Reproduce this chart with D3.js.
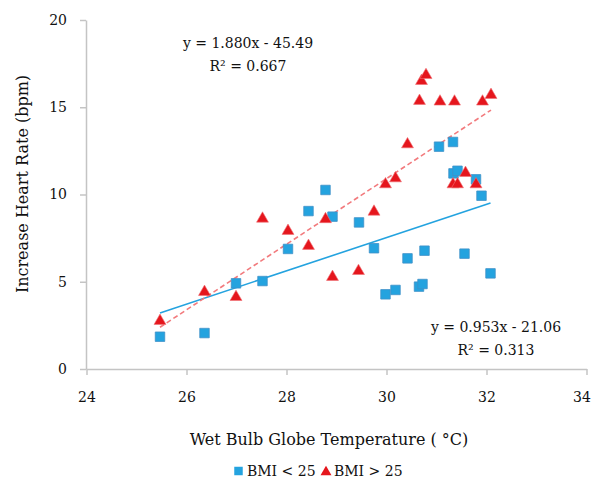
<!DOCTYPE html>
<html>
<head>
<meta charset="utf-8">
<script src="https://cdn.jsdelivr.net/npm/d3@7"></script>
<style>
  body { margin: 0; background: #fff; }
  text { font-family: "DejaVu Serif", serif; fill: #111; }
  .axis path, .axis line { stroke: #c4c4c4; stroke-width: 1.5; }
</style>
</head>
<body>
<svg id="chart"></svg>
<script>
const width = 594;
const height = 484;

// Wet bulb globe temperature (°C) for each subject group
const lowBmiTemp = [25.47, 26.36, 26.99, 27.52, 28.03, 28.44, 28.78, 28.92, 29.45, 29.75, 29.98, 30.18,
    30.42, 30.65, 30.72, 30.76, 31.05, 31.33, 31.34, 31.42, 31.56, 31.79, 31.90, 32.08];
const lowBmiRate = [1.85, 2.06, 4.91, 5.04, 6.88, 9.05, 10.26, 8.73, 8.40, 6.92, 4.28, 4.53,
    6.34, 4.72, 4.87, 6.78, 12.74, 13.01, 11.21, 11.36, 6.61, 10.87, 9.93, 5.48];

const highBmiTemp = [25.47, 26.36, 26.99, 27.52, 28.03, 28.44, 28.78, 28.92, 29.44, 29.75, 29.98, 30.18,
    30.42, 30.66, 30.70, 30.79, 31.07, 31.33, 31.36, 31.42, 31.58, 31.79, 31.92, 32.09];
const highBmiRate = [2.81, 4.47, 4.18, 8.67, 7.97, 7.11, 8.64, 5.33, 5.67, 9.07, 10.64, 10.98,
    12.93, 15.42, 16.56, 16.90, 15.38, 10.64, 15.38, 10.64, 11.29, 10.64, 15.38, 15.76];

// Linear trend lines (slope, intercept) and labels
const trendSlope = [0.953, 1.880];
const trendIntercept = [-21.06, -45.49];
const trendLabels = [['y = 0.953x - 21.06', 'R² = 0.313'], ['y = 1.880x - 45.49', 'R² = 0.667']];

const xTicks = [24, 26, 28, 30, 32, 34];
const yTicks = [0, 5, 10, 15, 20];
const legendLabels = ['BMI < 25', 'BMI > 25'];

const blue = '#24a3df';
const red = '#e5161d';

const svg = d3.select('#chart')
    .attr('width', width)
    .attr('height', height);

const x = d3.scaleLinear().domain([24, 34]).range([86.5, 586.5]);
const y = d3.scaleLinear().domain([0, 20]).range([369, 20]);

// Axes
svg.append('g')
    .attr('class', 'axis')
    .attr('transform', 'translate(0,369)')
    .call(d3.axisBottom(x).tickValues(xTicks).tickSize(6).tickSizeOuter(0).tickPadding(17))
    .call(g => g.selectAll('text').attr('font-size', 14).attr('font-family', '"DejaVu Serif", serif').attr('fill', '#111'))
    // keep the last label inside the picture
    .call(g => g.selectAll('.tick:last-of-type text').attr('dx', -5));

svg.append('g')
    .attr('class', 'axis')
    .attr('transform', 'translate(86,0)')
    .call(d3.axisLeft(y).tickValues(yTicks).tickSize(6).tickSizeOuter(0).tickPadding(13))
    .call(g => g.selectAll('text').attr('font-size', 14).attr('font-family', '"DejaVu Serif", serif').attr('fill', '#111'));

// Axis titles
svg.append('text')
    .attr('x', 329)
    .attr('y', 445)
    .attr('text-anchor', 'middle')
    .attr('font-size', 16)
    .text('Wet Bulb Globe Temperature ( °C)');

svg.append('text')
    .attr('transform', 'translate(28,184) rotate(-90)')
    .attr('text-anchor', 'middle')
    .attr('font-size', 16)
    .text('Increase Heart Rate (bpm)');

// Trend lines drawn over the data range
const groups = [
    { temp: lowBmiTemp, rate: lowBmiRate, color: blue, dash: null },
    { temp: highBmiTemp, rate: highBmiRate, color: '#f27a7d', dash: '5,3' }
];

groups.forEach((g, i) => {
    const x0 = d3.min(g.temp);
    const x1 = d3.max(g.temp);
    svg.append('line')
        .attr('x1', x(x0))
        .attr('y1', y(trendSlope[i] * x0 + trendIntercept[i]))
        .attr('x2', x(x1))
        .attr('y2', y(trendSlope[i] * x1 + trendIntercept[i]))
        .attr('stroke', g.color)
        .attr('stroke-width', 1.6)
        .attr('stroke-dasharray', g.dash);
});

// Markers
const square = d3.symbol().type(d3.symbolSquare).size(90);
const triangle = d3.symbol().type(d3.symbolTriangle).size(62);

svg.append('g').selectAll('path')
    .data(d3.zip(lowBmiTemp, lowBmiRate))
    .join('path')
    .attr('d', square)
    .attr('transform', d => `translate(${x(d[0])},${y(d[1])})`)
    .attr('fill', blue)
    .attr('stroke', '#3f90c8')
    .attr('stroke-width', 0.8);

svg.append('g').selectAll('path')
    .data(d3.zip(highBmiTemp, highBmiRate))
    .join('path')
    .attr('d', triangle)
    .attr('transform', d => `translate(${x(d[0])},${y(d[1]) + 1})`)
    .attr('fill', red)
    .attr('stroke', '#f07075')
    .attr('stroke-width', 0.6);

// Equation labels
const labelPos = [[496, 327], [248, 43]];
trendLabels.forEach((lines, i) => {
    lines.forEach((t, j) => {
        svg.append('text')
            .attr('x', labelPos[i][0])
            .attr('y', labelPos[i][1] + j * 23)
            .attr('dy', '0.35em')
            .attr('text-anchor', 'middle')
            .attr('font-size', 14)
            .text(t);
    });
});

// Legend
const legend = svg.append('g').attr('transform', 'translate(0,471)');
legend.append('path')
    .attr('d', d3.symbol().type(d3.symbolSquare).size(72))
    .attr('transform', 'translate(238.5,0)')
    .attr('fill', blue);
legend.append('text')
    .attr('x', 247)
    .attr('dy', '0.35em')
    .attr('font-size', 14)
    .text(legendLabels[0]);
legend.append('path')
    .attr('d', d3.symbol().type(d3.symbolTriangle).size(52))
    .attr('transform', 'translate(326,1)')
    .attr('fill', red);
legend.append('text')
    .attr('x', 334)
    .attr('dy', '0.35em')
    .attr('font-size', 14)
    .text(legendLabels[1]);
</script>
</body>
</html>
